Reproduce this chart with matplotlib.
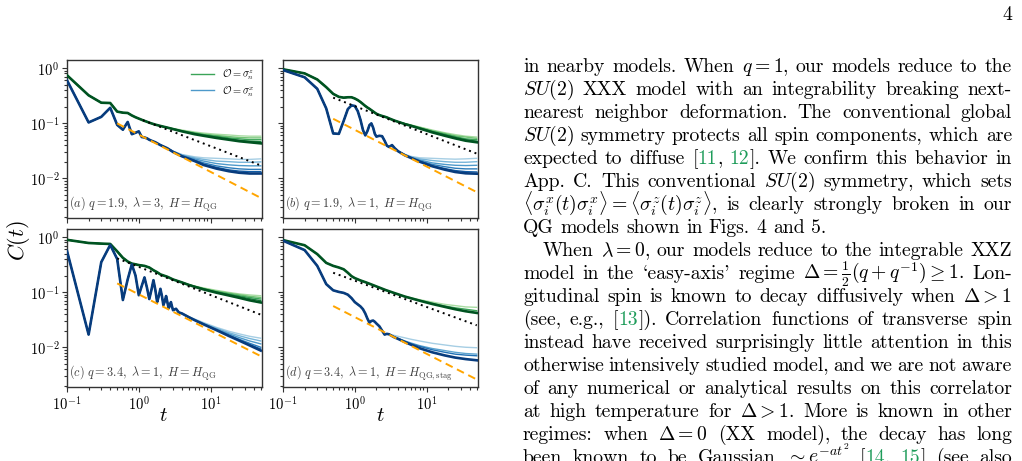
"""Correlation functions C(t) for the QG models (four panels) next to the
page text they sit beside.
"""

import matplotlib

matplotlib.use("Agg")
import matplotlib.pyplot as plt
import numpy as np
from matplotlib.ticker import NullFormatter

plt.rcParams["font.family"] = "cmr10"
plt.rcParams["mathtext.fontset"] = "cm"
plt.rcParams["axes.formatter.use_mathtext"] = True

# ---------------------------------------------------------------- data
# panel (a): q = 1.9, lambda = 3
t_a = [0.1, 0.2, 0.3, 0.4, 0.5, 0.6, 0.7, 0.8, 0.9, 1.0, 1.1, 1.2, 1.3, 1.4, 1.5, 1.7, 2.0, 2.5]
green_a = [0.74, 0.32, 0.235, 0.232, 0.162, 0.155, 0.153, 0.138, 0.128, 0.121, 0.115, 0.110,
           0.106, 0.102, 0.099, 0.094, 0.089, 0.083]
blue_a = [0.60, 0.103, 0.13, 0.19, 0.093, 0.076, 0.105, 0.063, 0.067, 0.071, 0.056, 0.055,
          0.053, 0.050, 0.048, 0.045, 0.040, 0.035]
tail_t_a = [3, 4, 6, 8, 12, 18, 25, 35, 50]
green_tails_a = [
    [0.080, 0.075, 0.069, 0.066, 0.063, 0.061, 0.059, 0.058, 0.058],
    [0.079, 0.073, 0.067, 0.063, 0.060, 0.057, 0.055, 0.054, 0.054],
    [0.079, 0.072, 0.066, 0.062, 0.058, 0.054, 0.052, 0.050, 0.050],
    [0.078, 0.071, 0.064, 0.060, 0.056, 0.052, 0.049, 0.047, 0.046],
    [0.078, 0.071, 0.063, 0.059, 0.054, 0.050, 0.047, 0.045, 0.043],
]
blue_tails_a = [
    [0.031, 0.027, 0.0245, 0.0235, 0.023, 0.0225, 0.022, 0.022, 0.0225],
    [0.031, 0.0265, 0.0235, 0.022, 0.0205, 0.020, 0.0195, 0.0195, 0.0198],
    [0.0305, 0.026, 0.0225, 0.0205, 0.0185, 0.0175, 0.017, 0.0168, 0.0168],
    [0.0305, 0.0255, 0.0215, 0.019, 0.0168, 0.0155, 0.0148, 0.0145, 0.0145],
    [0.030, 0.025, 0.021, 0.018, 0.0158, 0.0142, 0.0135, 0.0132, 0.0132],
    [0.030, 0.025, 0.0205, 0.0174, 0.0150, 0.0134, 0.0126, 0.0122, 0.0122],
]
dotted_a = ([1.14, 50], [0.113, 0.0171])
dashed_a = ([0.5, 50], [0.099, 0.0044])

# panel (b): q = 1.9, lambda = 1
t_b = [0.1, 0.2, 0.3, 0.4, 0.5, 0.6, 0.7, 0.8, 0.9, 1.0, 1.1, 1.2, 1.3, 1.4, 1.5, 1.6, 1.7,
       1.8, 1.9, 2.0, 2.2, 2.4, 2.6, 2.8, 3.0, 3.3, 3.6, 4.0]
green_b = [0.95, 0.80, 0.62, 0.45, 0.34, 0.30, 0.29, 0.295, 0.295, 0.28, 0.262, 0.242, 0.222,
           0.205, 0.192, 0.182, 0.172, 0.163, 0.155, 0.148, 0.140, 0.135, 0.131, 0.127, 0.122,
           0.116, 0.111, 0.106]
blue_b = [0.92, 0.68, 0.42, 0.185, 0.065, 0.064, 0.11, 0.18, 0.21, 0.205, 0.165, 0.115, 0.075,
          0.060, 0.072, 0.092, 0.099, 0.083, 0.064, 0.057, 0.059, 0.058, 0.048, 0.039, 0.037,
          0.040, 0.035, 0.031]
tail_t_b = [5, 6, 8, 12, 18, 25, 35, 50]
green_tails_b = [
    [0.098, 0.093, 0.085, 0.075, 0.067, 0.062, 0.058, 0.056],
    [0.098, 0.092, 0.084, 0.073, 0.065, 0.059, 0.056, 0.053],
    [0.097, 0.091, 0.082, 0.071, 0.063, 0.057, 0.052, 0.050],
    [0.097, 0.090, 0.081, 0.070, 0.061, 0.055, 0.050, 0.047],
    [0.096, 0.090, 0.080, 0.068, 0.059, 0.053, 0.048, 0.045],
]
blue_tails_b = [
    [0.027, 0.025, 0.0235, 0.023, 0.0225, 0.0222, 0.0225, 0.023],
    [0.027, 0.0245, 0.0225, 0.021, 0.020, 0.0195, 0.0195, 0.020],
    [0.0265, 0.024, 0.0215, 0.019, 0.0178, 0.0172, 0.017, 0.0172],
    [0.0265, 0.0238, 0.0208, 0.0178, 0.0162, 0.0152, 0.0148, 0.0148],
    [0.0262, 0.0235, 0.0203, 0.0168, 0.0150, 0.0138, 0.0132, 0.0130],
    [0.026, 0.0235, 0.020, 0.0165, 0.0143, 0.0130, 0.0123, 0.0121],
]
dotted_b = ([0.5, 50], [0.29, 0.028])
dashed_b = ([0.5, 50], [0.12, 0.0056])

# panel (c): q = 3.4, lambda = 1
t_c_green = [0.1, 0.2, 0.3, 0.4, 0.5, 0.6, 0.7, 0.8, 0.9, 1.0, 1.2, 1.4, 1.6, 1.8, 2.0, 2.5, 3.0, 4.0]
green_c = [0.89, 0.78, 0.76, 0.75, 0.55, 0.42, 0.36, 0.33, 0.32, 0.31, 0.30, 0.28, 0.25, 0.23,
           0.21, 0.19, 0.17, 0.15]
t_c_blue = [0.1, 0.2, 0.3, 0.4, 0.5, 0.6, 0.7, 0.8, 0.9, 1.0, 1.1, 1.2, 1.3, 1.4, 1.5, 1.6, 1.7,
            1.8, 1.9, 2.0, 2.1, 2.2, 2.3, 2.4, 2.5, 2.6, 2.7, 2.8, 2.9, 3.0, 3.3, 3.6, 4.0]
blue_c = [0.56, 0.017, 0.35, 0.72, 0.40, 0.072, 0.17, 0.32, 0.20, 0.088, 0.13, 0.185, 0.12,
          0.075, 0.11, 0.165, 0.11, 0.066, 0.085, 0.115, 0.085, 0.058, 0.068, 0.085, 0.066,
          0.051, 0.056, 0.066, 0.055, 0.047, 0.050, 0.043, 0.041]
tail_t_c = [5, 6, 8, 12, 18, 25, 35, 50]
green_tails_c = [
    [0.137, 0.129, 0.119, 0.108, 0.099, 0.093, 0.089, 0.086],
    [0.136, 0.128, 0.117, 0.105, 0.096, 0.090, 0.084, 0.080],
    [0.136, 0.127, 0.115, 0.102, 0.093, 0.086, 0.080, 0.075],
    [0.135, 0.126, 0.114, 0.100, 0.090, 0.083, 0.076, 0.070],
    [0.135, 0.125, 0.112, 0.098, 0.087, 0.079, 0.071, 0.065],
]
blue_tails_c = [
    [0.036, 0.0325, 0.0280, 0.0230, 0.0195, 0.0175, 0.0158, 0.0146],
    [0.0355, 0.032, 0.0272, 0.0222, 0.0184, 0.0162, 0.0144, 0.0130],
    [0.0352, 0.0315, 0.0267, 0.0215, 0.0175, 0.0150, 0.0130, 0.0115],
    [0.035, 0.0312, 0.0263, 0.0210, 0.0167, 0.0140, 0.0118, 0.0100],
    [0.035, 0.0311, 0.0261, 0.0207, 0.0163, 0.0135, 0.0112, 0.0093],
    [0.035, 0.031, 0.026, 0.0205, 0.0160, 0.0132, 0.0108, 0.0087],
]
dotted_c = ([0.5, 50], [0.41, 0.039])
dashed_c = ([0.5, 50], [0.144, 0.0069])

# panel (d): q = 3.4, lambda = 1, staggered
t_d_green = [0.1, 0.2, 0.3, 0.4, 0.5, 0.6, 0.7, 0.8, 0.9, 1.0, 1.2, 1.4, 1.7, 2.0, 2.7, 3.5]
green_d = [0.88, 0.71, 0.49, 0.34, 0.30, 0.28, 0.26, 0.225, 0.195, 0.18, 0.163, 0.152, 0.138,
           0.127, 0.109, 0.097]
t_d_blue = [0.1, 0.2, 0.3, 0.4, 0.5, 0.6, 0.7, 0.8, 0.9, 1.0, 1.1, 1.2, 1.3, 1.4, 1.5, 1.6,
            1.7, 1.8, 1.9, 2.0, 2.2, 2.4, 2.6, 2.8, 3.0]
blue_d = [0.86, 0.58, 0.30, 0.14, 0.108, 0.101, 0.097, 0.090, 0.078, 0.066, 0.060, 0.055,
          0.049, 0.041, 0.033, 0.028, 0.030, 0.0305, 0.029, 0.027, 0.024, 0.020, 0.017,
          0.0175, 0.0172]
green_tail_t_d = [5, 8, 12, 18, 25, 35, 50]
green_tails_d = [
    [0.084, 0.073, 0.066, 0.060, 0.057, 0.054, 0.053],
    [0.083, 0.071, 0.063, 0.056, 0.052, 0.049, 0.046],
    [0.083, 0.070, 0.061, 0.054, 0.049, 0.045, 0.042],
]
blue_tail_t_d = [3.5, 4, 5, 6, 8, 12, 18, 25, 35, 50]
blue_tails_d = [
    [0.0165, 0.0158, 0.0148, 0.0140, 0.0130, 0.0118, 0.0110, 0.0104, 0.0100, 0.0098],
    [0.0155, 0.0145, 0.0130, 0.0120, 0.0107, 0.0095, 0.0087, 0.0081, 0.0077, 0.0075],
    [0.0155, 0.0144, 0.0128, 0.0117, 0.0104, 0.0090, 0.0081, 0.0075, 0.0072, 0.0070],
    [0.0153, 0.0142, 0.0124, 0.0112, 0.0096, 0.0081, 0.0071, 0.0065, 0.0061, 0.0058],
]
dotted_d = ([0.5, 50], [0.225, 0.025])
dashed_d = ([0.5, 50], [0.056, 0.0026])

panel_labels = [
    r"$(a)\ q=1.9,\ \lambda=3,\ H=H_{\rm QG}$",
    r"$(b)\ q=1.9,\ \lambda=1,\ H=H_{\rm QG}$",
    r"$(c)\ q=3.4,\ \lambda=1,\ H=H_{\rm QG}$",
    r"$(d)\ q=3.4,\ \lambda=1,\ H=H_{\rm QG,stag}$",
]
legend_labels = [r"$\mathcal{O}=\sigma_n^z$", r"$\mathcal{O}=\sigma_n^x$"]
x_tick_vals = [0.1, 1, 10]
x_tick_labels = [r"$10^{-1}$", r"$10^{0}$", r"$10^{1}$"]
y_tick_vals = [1e-2, 1e-1, 1]
y_tick_labels = [r"$10^{-2}$", r"$10^{-1}$", r"$10^{0}$"]

body_lines = [
    "in nearby models. When $q=1$, our models reduce to the",
    "$SU(2)$ XXX model with an integrability breaking next-",
    "nearest neighbor deformation. The conventional global",
    "$SU(2)$ symmetry protects all spin components, which are",
    "expected to diffuse [@11@, @12@]. We confirm this behavior in",
    "App. C. This conventional $SU(2)$ symmetry, which sets",
    r"$\langle\sigma_i^x(t)\sigma_i^x\rangle=\langle\sigma_i^z(t)\sigma_i^z\rangle$, is clearly strongly broken in our",
    "QG models shown in Figs. 4 and 5.",
    r"When $\lambda=0$, our models reduce to the integrable XXZ",
    r"model in the `easy-axis' regime $\Delta=\frac{1}{2}(q+q^{-1})\geq1$. Lon-",
    r"gitudinal spin is known to decay diffusively when $\Delta>1$",
    "(see, e.g., [@13@]). Correlation functions of transverse spin",
    "instead have received surprisingly little attention in this",
    "otherwise intensively studied model, and we are not aware",
    "of any numerical or analytical results on this correlator",
    r"at high temperature for $\Delta>1$. More is known in other",
    r"regimes: when $\Delta=0$ (XX model), the decay has long",
    r"been known to be Gaussian $\sim{}e^{-at^2}$ [@14@, @15@] (see also",
]
ragged_lines = {7}
indented_lines = {8}

# ---------------------------------------------------------------- layout
W, H = 1022, 461
DPI = 100
fig = plt.figure(figsize=(W / DPI, H / DPI), dpi=DPI)

AX_W, AX_H = 195, 158
corners = [(67, 60), (283, 60), (67, 229), (283, 229)]

panels = [
    (t_a, green_a, t_a, blue_a, tail_t_a, green_tails_a, tail_t_a, blue_tails_a, dotted_a, dashed_a),
    (t_b, green_b, t_b, blue_b, tail_t_b, green_tails_b, tail_t_b, blue_tails_b, dotted_b, dashed_b),
    (t_c_green, green_c, t_c_blue, blue_c, tail_t_c, green_tails_c, tail_t_c, blue_tails_c,
     dotted_c, dashed_c),
    (t_d_green, green_d, t_d_blue, blue_d, green_tail_t_d, green_tails_d, blue_tail_t_d,
     blue_tails_d, dotted_d, dashed_d),
]


def draw_band(ax, t_early, early, t_tail, tails, cmap, label=None):
    """One curve per system size, light to dark, sharing the early part."""
    cols = plt.get_cmap(cmap)(np.linspace(0.35, 0.95, len(tails)))
    for k, tail in enumerate(tails):
        last = k == len(tails) - 1
        ax.plot(t_early + t_tail, early + tail, color=cols[k],
                lw=1.9 if last else 1.0, zorder=3 + k * 0.1,
                label=label if k == 2 else None)


for i, ((x0, y0), p) in enumerate(zip(corners, panels)):
    tg, g, tb, b, ttg, gtails, ttb, btails, dot, dash = p
    ax = fig.add_axes([x0 / W, 1 - (y0 + AX_H) / H, AX_W / W, AX_H / H])
    ax.set_xscale("log")
    ax.set_yscale("log")

    draw_band(ax, tg, g, ttg, gtails, "Greens", legend_labels[0])
    draw_band(ax, tb, b, ttb, btails, "Blues", legend_labels[1])
    ax.plot(*dot, color="black", lw=1.4, ls=(0, (1, 2)), zorder=6)
    ax.plot(*dash, color="orange", lw=1.4, ls=(0, (4, 2.5)), zorder=6)

    ax.set_xlim(0.1, 52)
    ax.set_ylim(1.9e-3, 1.4)
    ax.set_xticks(x_tick_vals, labels=x_tick_labels if i >= 2 else [])
    ax.set_yticks(y_tick_vals, labels=y_tick_labels if i % 2 == 0 else [])
    ax.xaxis.set_minor_formatter(NullFormatter())
    ax.yaxis.set_minor_formatter(NullFormatter())
    ax.tick_params(which="both", direction="out", color="0.2", width=0.8, labelsize=10.5,
                   pad=2)
    ax.tick_params(which="major", length=3.5)
    ax.tick_params(which="minor", length=2)
    for s in ax.spines.values():
        s.set_color("0.2")
        s.set_linewidth(1.0)

    ax.text(0.01, 0.03, panel_labels[i], transform=ax.transAxes, fontsize=8.8,
            color="0.25", ha="left", va="bottom")
    if i == 0:
        ax.legend(loc="upper right", frameon=False, fontsize=7.5, handlelength=2.2,
                  borderaxespad=0.3, labelspacing=0.2)


def fpos(x, y):
    return x / W, 1 - y / H


fig.text(*fpos(19, 240), "$C(t)$", rotation=90, fontsize=16, ha="center", va="center")
fig.text(*fpos(163, 416), "$t$", fontsize=15, ha="center", va="center")
fig.text(*fpos(380, 416), "$t$", fontsize=15, ha="center", va="center")

# ---------------------------------------------------------------- page text
BODY_SIZE = 14.2
TEXT_X0, TEXT_X1, INDENT = 523, 1012, 20
BASE_Y0, LEAD = 72, 23.0
REF_GREEN = "#1e9c5a"

fig.text(*fpos(TEXT_X1, 20), "4", fontsize=BODY_SIZE, ha="right", va="baseline")

renderer = fig.canvas.get_renderer()


def split_words(line):
    words, cur, in_math = [], "", False
    for ch in line:
        if ch == "$":
            in_math = not in_math
        if ch == " " and not in_math:
            if cur:
                words.append(cur)
            cur = ""
        else:
            cur += ch
    if cur:
        words.append(cur)
    return words


def place_line(line, y, x0, x1, justify):
    items = []
    for word in split_words(line):
        segs = []
        for k, s in enumerate(word.split("@")):
            if not s:
                continue
            t = fig.text(0, 0, s, fontsize=BODY_SIZE, ha="left", va="baseline",
                         color=REF_GREEN if k % 2 else "black")
            segs.append((t, t.get_window_extent(renderer).width))
        items.append(segs)
    widths = [sum(w for _, w in segs) for segs in items]
    if justify and len(items) > 1:
        gap = (x1 - x0 - sum(widths)) / (len(items) - 1)
    else:
        gap = BODY_SIZE * DPI / 72 * 0.333
    x = x0
    for segs in items:
        for t, w in segs:
            t.set_position(fpos(x, y))
            x += w
        x += gap


for n, line in enumerate(body_lines):
    x_start = TEXT_X0 + (INDENT if n in indented_lines else 0)
    place_line(line, BASE_Y0 + n * LEAD, x_start, TEXT_X1, n not in ragged_lines)

fig.savefig("out.png", dpi=DPI)
